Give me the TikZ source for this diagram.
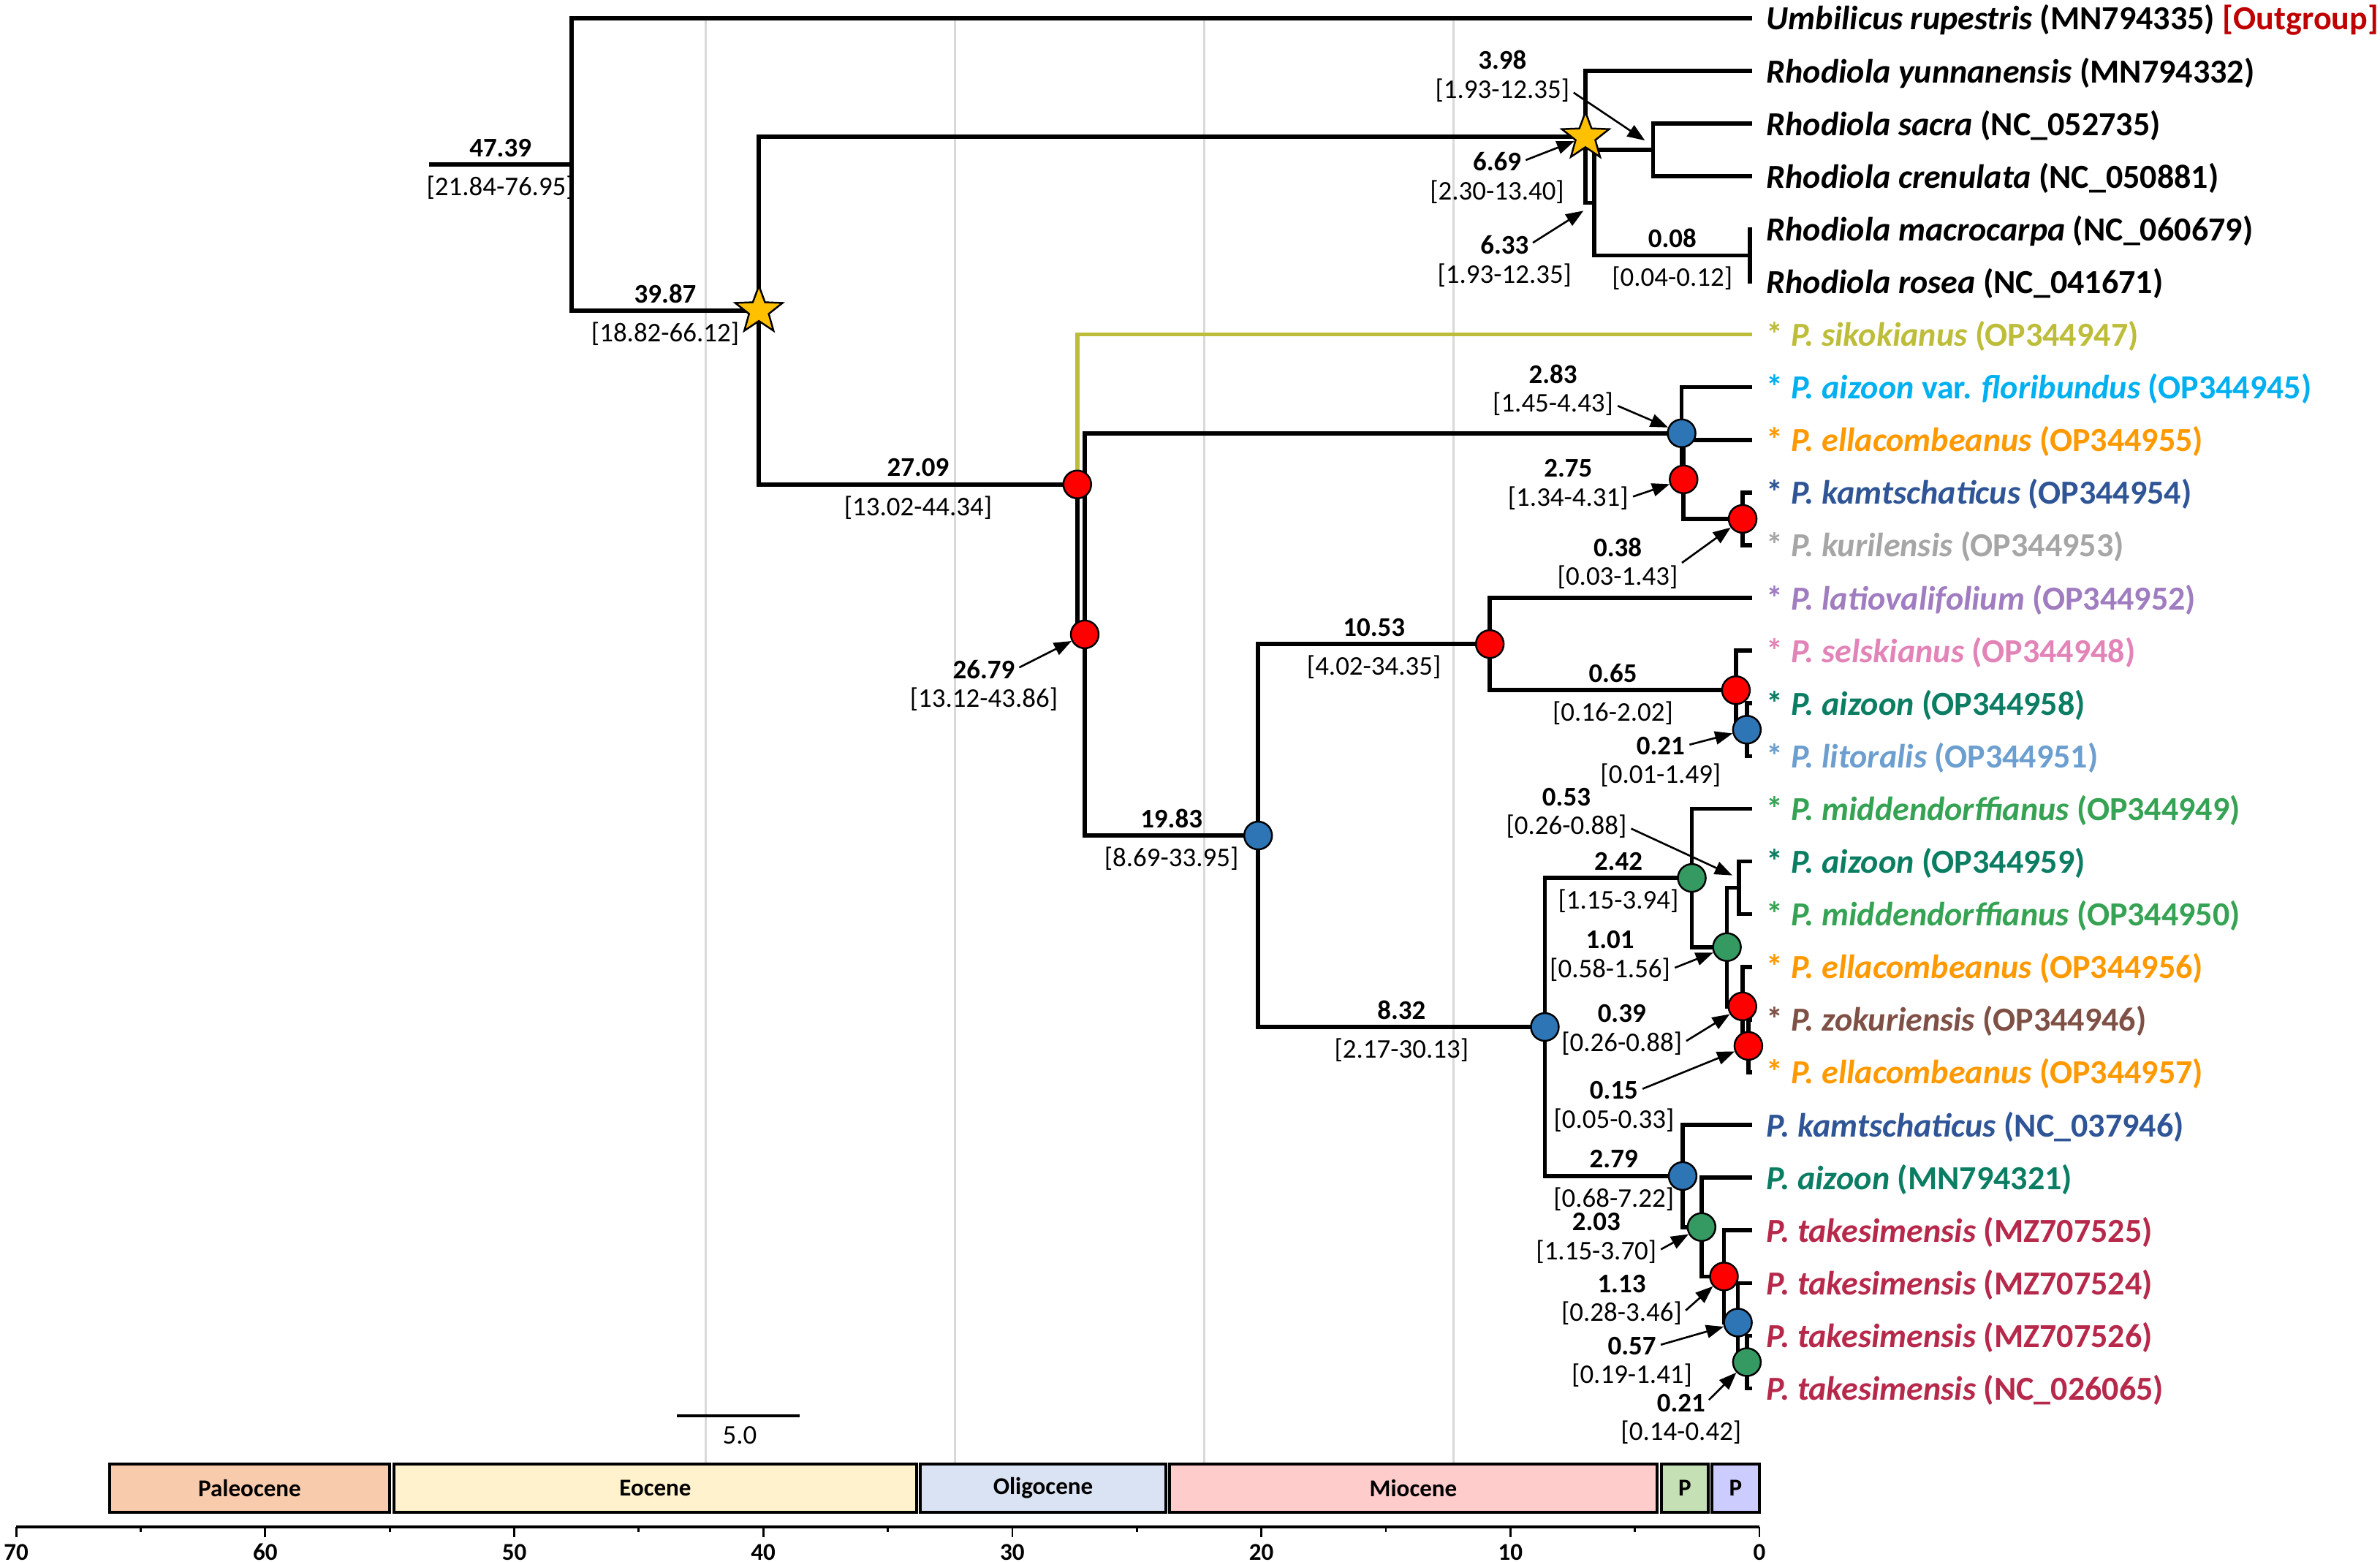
\documentclass[tikz,border=0pt]{standalone}
\usepackage{fontspec}
\setmainfont{Carlito}
\usetikzlibrary{positioning, calc, arrows.meta, shapes.geometric}

\definecolor{nred}{HTML}{FF0000}
\definecolor{nblue}{HTML}{2E75B6}
\definecolor{ngreen}{HTML}{349A62}
\definecolor{gold}{HTML}{FFC000}
\definecolor{outred}{HTML}{C00000}
\definecolor{siko}{HTML}{BDBD3A}
\definecolor{flor}{HTML}{00B0F0}
\definecolor{ella}{HTML}{FF9900}
\definecolor{kamt}{HTML}{2F5597}
\definecolor{kuri}{HTML}{A6A6A6}
\definecolor{lati}{HTML}{A07CC0}
\definecolor{sels}{HTML}{E384B8}
\definecolor{aizo}{HTML}{0A7D63}
\definecolor{lito}{HTML}{6C9FCF}
\definecolor{midd}{HTML}{35A353}
\definecolor{zoku}{HTML}{7F5045}
\definecolor{take}{HTML}{B7294B}
\definecolor{gridgray}{HTML}{D9D9D9}
\definecolor{paleo}{HTML}{F8CBAD}
\definecolor{eoc}{HTML}{FFF2CC}
\definecolor{olig}{HTML}{DAE3F3}
\definecolor{mioc}{HTML}{FFCCCC}
\definecolor{plio}{HTML}{C5E0B4}
\definecolor{pleis}{HTML}{CCCCFF}

% age above and interval below the branch leading to #2
\newcommand{\brlab}[4]{%
  \coordinate (m#2) at ($(#1 |- #2)!0.5!(#2)$);
  \node[age, above=1mm of m#2] (a#2) {#3};
  \node[hpd, below=1.5mm of m#2] (h#2) {[#4]};}
% age and interval set off from node #1
\newcommand{\arlab}[4]{%
  \node[age] (a#1) at ([shift={#2}]#1) {#3};
  \node[hpd, below=1.1mm of a#1] (h#1) {[#4]};}

\begin{document}
\begin{tikzpicture}[
  branch/.style={line width=1.6pt},
  dot/.style={circle, draw, line width=0.7pt, minimum size=3.8mm, inner sep=0pt},
  starnode/.style={star, star points=5, star point ratio=2.4, draw, line width=0.7pt, fill=gold, minimum size=6.8mm, inner sep=0pt},
  age/.style={font=\bfseries\fontsize{10.5}{12}\selectfont, inner sep=0pt},
  hpd/.style={font=\fontsize{10.5}{12}\selectfont, inner sep=0pt},
  leaf/.style={font=\bfseries\fontsize{13.1}{15}\selectfont, inner sep=0pt, anchor=base west},
  pointer/.style={-{Triangle[length=2.4mm,width=1.8mm]}, line width=0.75pt, shorten <=0.6mm},
  gridline/.style={gridgray, line width=0.85pt},
  epochbox/.style={draw, line width=1pt},
  epochlab/.style={font=\bfseries\fontsize{9.4}{11}\selectfont, inner sep=0pt},
  axlab/.style={font=\bfseries\fontsize{9.4}{11}\selectfont, inner sep=0pt, anchor=base},
  axtick/.style={line width=0.8pt}]
\fill[white] (0,0) rectangle (32.56,21.36);
\useasboundingbox (0,0) rectangle (32.56,21.36);

\begin{scope}[x=-0.3408cm, y=-0.721cm, shift={(23.97cm,21.831cm)}]
\foreach \m in {42,32,22,12}
  \draw[gridline] (\m,1) -- (\m,28.43);
\foreach \i in {1,...,27}
  \coordinate (l\i) at (0,\i);
\coordinate (stub) at (53.1,3.774);
\coordinate (root) at (47.39,3.774);
\coordinate (A) at (39.87,6.548);
\coordinate (B) at (6.69,3.25);
\coordinate (D) at (3.98,3.5);
\coordinate (E) at (6.33,4.5);
\coordinate (F) at (0.08,5.5);
\coordinate (C) at (27.09,9.846);
\coordinate (G) at (26.79,12.691);
\coordinate (H) at (2.83,8.875);
\coordinate (J) at (2.75,9.75);
\coordinate (K) at (0.38,10.5);
\coordinate (I) at (19.83,16.508);
\coordinate (L) at (10.53,12.875);
\coordinate (N) at (0.65,13.75);
\coordinate (O) at (0.21,14.5);
\coordinate (M) at (8.32,20.141);
\coordinate (P) at (2.42,17.3125);
\coordinate (S) at (0.53,17.5);
\coordinate (R) at (1.01,18.625);
\coordinate (T) at (0.39,19.75);
\coordinate (U) at (0.15,20.5);
\coordinate (Q) at (2.79,22.969);
\coordinate (V) at (2.03,23.9375);
\coordinate (W) at (1.13,24.875);
\coordinate (X) at (0.57,25.75);
\coordinate (Y) at (0.21,26.5);

\draw[branch] (root) -- (stub);
\draw[branch] (l1) -| (root) |- (A);
\draw[branch] (B) -| (A) |- (C);
\draw[branch] (l2) -| (B) |- (E);
\draw[branch] (D) -| (E) |- (F);
\draw[branch] (l3) -| (D) |- (l4);
\draw[branch] (l5) -| (F) |- (l6);
\draw[branch, siko] (l7) -| (C);
\draw[branch] (C) |- (G);
\draw[branch] (H) -| (G) |- (I);
\draw[branch] (l8) -| (H) |- (J);
\draw[branch] (l9) -| (J) |- (K);
\draw[branch] (l10) -| (K) |- (l11);
\draw[branch] (L) -| (I) |- (M);
\draw[branch] (l12) -| (L) |- (N);
\draw[branch] (l13) -| (N) |- (O);
\draw[branch] (l14) -| (O) |- (l15);
\draw[branch] (P) -| (M) |- (Q);
\draw[branch] (l16) -| (P) |- (R);
\draw[branch] (S) -| (R) |- (T);
\draw[branch] (l17) -| (S) |- (l18);
\draw[branch] (l19) -| (T) |- (U);
\draw[branch] (l20) -| (U) |- (l21);
\draw[branch] (l22) -| (Q) |- (V);
\draw[branch] (l23) -| (V) |- (W);
\draw[branch] (l24) -| (W) |- (X);
\draw[branch] (l25) -| (X) |- (Y);
\draw[branch] (l26) -| (Y) |- (l27);
\end{scope}

\foreach \v/\col in {C/nred, G/nred, H/nblue, J/nred, K/nred, I/nblue, L/nred,
    N/nred, O/nblue, M/nblue, P/ngreen, R/ngreen, T/nred, U/nred, Q/nblue,
    V/ngreen, W/nred, X/nblue, Y/ngreen}
  \node[dot, fill=\col] (c\v) at (\v) {};
\node[starnode] (sA) at (A) {};
\node[starnode] (sB) at (B) {};

\brlab{stub}{root}{47.39}{21.84-76.95}
\brlab{root}{A}{39.87}{18.82-66.12}
\brlab{A}{C}{27.09}{13.02-44.34}
\brlab{G}{I}{19.83}{8.69-33.95}
\brlab{I}{L}{10.53}{4.02-34.35}
\brlab{I}{M}{8.32}{2.17-30.13}
\brlab{L}{N}{0.65}{0.16-2.02}
\brlab{M}{P}{2.42}{1.15-3.94}
\brlab{M}{Q}{2.79}{0.68-7.22}
\brlab{E}{F}{0.08}{0.04-0.12}

\arlab{D}{(-2.06cm,1.23cm)}{3.98}{1.93-12.35}
\arlab{B}{(-1.21cm,-0.34cm)}{6.69}{2.30-13.40}
\arlab{E}{(-1.23cm,-0.58cm)}{6.33}{1.93-12.35}
\arlab{H}{(-1.76cm,0.81cm)}{2.83}{1.45-4.43}
\arlab{J}{(-1.58cm,0.15cm)}{2.75}{1.34-4.31}
\arlab{K}{(-1.71cm,-0.39cm)}{0.38}{0.03-1.43}
\arlab{O}{(-1.18cm,-0.22cm)}{0.21}{0.01-1.49}
\arlab{S}{(-2.36cm,1.24cm)}{0.53}{0.26-0.88}
\arlab{R}{(-1.60cm,0.10cm)}{1.01}{0.58-1.56}
\arlab{T}{(-1.65cm,-0.10cm)}{0.39}{0.26-0.88}
\arlab{U}{(-1.84cm,-0.61cm)}{0.15}{0.05-0.33}
\arlab{V}{(-1.44cm,0.07cm)}{2.03}{1.15-3.70}
\arlab{W}{(-1.40cm,-0.10cm)}{1.13}{0.28-3.46}
\arlab{X}{(-1.45cm,-0.32cm)}{0.57}{0.19-1.41}
\arlab{Y}{(-0.90cm,-0.56cm)}{0.21}{0.14-0.42}
\arlab{G}{(-1.38cm,-0.48cm)}{26.79}{13.12-43.86}

\draw[pointer] (hD.east) -- ([shift={(-0.11cm,0.13cm)}]D);
\draw[pointer] (aB.east) -- (sB);
\draw[pointer] (aE.east) -- ([shift={(-0.15cm,-0.11cm)}]E);
\draw[pointer] (hH.east) -- (cH);
\draw[pointer] (hJ.east) -- (cJ);
\draw[pointer] (hK.north east) -- (cK);
\draw[pointer] (aO.east) -- (cO);
\draw[pointer] (hS.east) -- ([shift={(-0.09cm,0.17cm)}]S);
\draw[pointer] (hR.east) -- (cR);
\draw[pointer] (hT.east) -- (cT);
\draw[pointer] (aU.east) -- (cU);
\draw[pointer] (hV.east) -- (cV);
\draw[pointer] (hW.east) -- (cW);
\draw[pointer] (aX.east) -- (cX);
\draw[pointer] (aY.east) -- (cY);
\draw[pointer] (aG.east) -- (cG);

\foreach \col/\txt [count=\i] in {
  black/{\textit{Umbilicus rupestris} (MN794335) \textcolor{outred}{[Outgroup]}},
  black/{\textit{Rhodiola yunnanensis} (MN794332)},
  black/{\textit{Rhodiola sacra} (NC\_052735)},
  black/{\textit{Rhodiola crenulata} (NC\_050881)},
  black/{\textit{Rhodiola macrocarpa} (NC\_060679)},
  black/{\textit{Rhodiola rosea} (NC\_041671)},
  siko/{* \textit{P. sikokianus} (OP344947)},
  flor/{* \textit{P. aizoon} var. \textit{floribundus} (OP344945)},
  ella/{* \textit{P. ellacombeanus} (OP344955)},
  kamt/{* \textit{P. kamtschaticus} (OP344954)},
  kuri/{* \textit{P. kurilensis} (OP344953)},
  lati/{* \textit{P. latiovalifolium} (OP344952)},
  sels/{* \textit{P. selskianus} (OP344948)},
  aizo/{* \textit{P. aizoon} (OP344958)},
  lito/{* \textit{P. litoralis} (OP344951)},
  midd/{* \textit{P. middendorffianus} (OP344949)},
  aizo/{* \textit{P. aizoon} (OP344959)},
  midd/{* \textit{P. middendorffianus} (OP344950)},
  ella/{* \textit{P. ellacombeanus} (OP344956)},
  zoku/{* \textit{P. zokuriensis} (OP344946)},
  ella/{* \textit{P. ellacombeanus} (OP344957)},
  kamt/{\textit{P. kamtschaticus} (NC\_037946)},
  aizo/{\textit{P. aizoon} (MN794321)},
  take/{\textit{P. takesimensis} (MZ707525)},
  take/{\textit{P. takesimensis} (MZ707524)},
  take/{\textit{P. takesimensis} (MZ707526)},
  take/{\textit{P. takesimensis} (NC\_026065)}}
  \node[leaf, text=\col, xshift=1.9mm, yshift=-1.6mm] (t\i) at (l\i) {\txt};

\draw[line width=1pt] (9.26,1.99) coordinate (sb1) -- (10.94,1.99) coordinate (sb2);
\node[hpd] (sbl) at (10.12,1.72) {5.0};

\foreach \a/\b/\col/\nm [count=\k] in {1.50/5.33/paleo/Paleocene, 5.39/12.54/eoc/Eocene,
    12.59/15.95/olig/Oligocene, 16.00/22.67/mioc/Miocene, 22.73/23.37/plio/P, 23.42/24.07/pleis/P} {
  \draw[epochbox, fill=\col] (\a,0.67) rectangle (\b,1.33);
  \node[epochlab] (ep\k) at ({(\a+\b)/2},1.00) {\nm};
}

\draw[line width=1.2pt] (0.221,0.47) coordinate (ax0) -- (24.07,0.47) coordinate (ax1);
\foreach \m in {70,60,...,0} {
  \draw[axtick] ({24.07-0.3407*\m},0.47) -- ++(0,-0.14);
  \node[axlab] (ax\m) at ({24.07-0.3407*\m},0.02) {\m};
}
\foreach \m in {65,55,...,5}
  \draw[axtick] ({24.07-0.3407*\m},0.47) -- ++(0,-0.07);
\end{tikzpicture}
\end{document}
